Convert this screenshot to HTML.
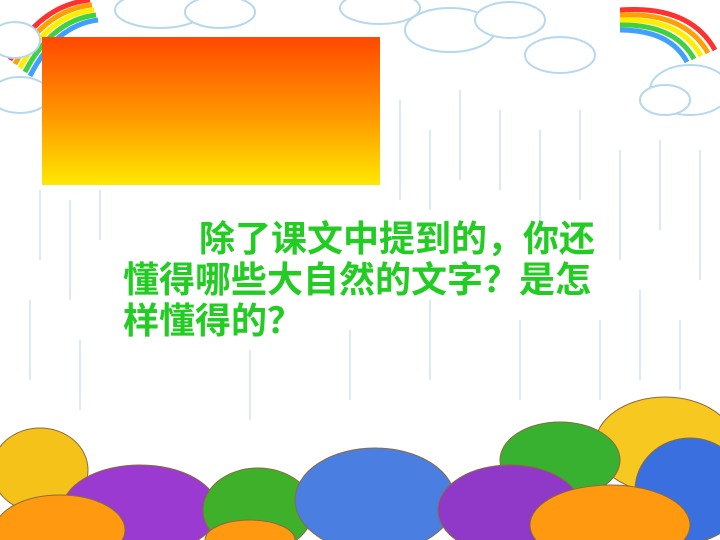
<!DOCTYPE html>
<html><head><meta charset="utf-8"><style>
html,body{margin:0;padding:0;}
body{width:720px;height:540px;overflow:hidden;background:#fff;position:relative;}
#bg{position:absolute;left:0;top:0;}
#box{position:absolute;left:42px;top:37px;width:338px;height:148px;background:linear-gradient(#ff4800,#ff9a00 55%,#ffe800);}
#txt{position:absolute;left:123px;top:218px;width:500px;font-family:"Liberation Sans","Noto Sans CJK SC",sans-serif;font-size:36px;line-height:41px;color:#22cc22;font-weight:bold;white-space:nowrap;}
</style></head><body>
<svg id="bg" width="720" height="540" viewBox="0 0 720 540">
<g stroke="#dbeaf6" stroke-width="2">
<line x1="40" y1="190" x2="40" y2="260"/><line x1="70" y1="200" x2="70" y2="300"/><line x1="100" y1="190" x2="100" y2="240"/><line x1="400" y1="100" x2="400" y2="200"/><line x1="430" y1="130" x2="430" y2="210"/><line x1="460" y1="90" x2="460" y2="180"/><line x1="500" y1="110" x2="500" y2="190"/><line x1="540" y1="130" x2="540" y2="230"/><line x1="580" y1="110" x2="580" y2="200"/><line x1="620" y1="150" x2="620" y2="260"/><line x1="660" y1="140" x2="660" y2="230"/><line x1="700" y1="150" x2="700" y2="280"/><line x1="640" y1="290" x2="640" y2="380"/><line x1="600" y1="320" x2="600" y2="400"/><line x1="30" y1="300" x2="30" y2="380"/><line x1="80" y1="340" x2="80" y2="410"/><line x1="350" y1="330" x2="350" y2="400"/><line x1="430" y1="300" x2="430" y2="380"/><line x1="520" y1="320" x2="520" y2="400"/><line x1="680" y1="320" x2="680" y2="390"/><line x1="250" y1="350" x2="250" y2="420"/></g>
<g fill="none" stroke-width="5">
<path d="M10 60 Q40 5 90 0" stroke="#ff3030"/><path d="M15 64 Q44 10 92 5" stroke="#ffa000"/><path d="M20 68 Q48 15 94 10" stroke="#ffee00"/><path d="M25 72 Q52 20 96 15" stroke="#40d040"/><path d="M30 76 Q56 25 98 20" stroke="#40a0ff"/></g>
<g fill="none" stroke-width="5">
<path d="M620 10 Q690 5 715 50" stroke="#ff3030"/><path d="M620 15 Q685 12 708 53" stroke="#ffa000"/><path d="M620 20 Q680 18 701 56" stroke="#ffee00"/><path d="M620 25 Q675 24 694 59" stroke="#40d040"/><path d="M620 30 Q670 30 687 62" stroke="#40a0ff"/></g>
<g fill="#fff" stroke="#b5d8f0" stroke-width="2">
<ellipse cx="15" cy="40" rx="25" ry="18"/><ellipse cx="20" cy="95" rx="30" ry="18"/>
<ellipse cx="160" cy="10" rx="45" ry="18"/><ellipse cx="220" cy="12" rx="35" ry="16"/>
<ellipse cx="380" cy="8" rx="40" ry="16"/><ellipse cx="450" cy="30" rx="45" ry="22"/><ellipse cx="510" cy="20" rx="35" ry="18"/><ellipse cx="560" cy="55" rx="35" ry="18"/>
<ellipse cx="690" cy="90" rx="40" ry="25"/><ellipse cx="665" cy="100" rx="25" ry="15"/></g>
<g stroke="#8a6a40" stroke-width="1">
<ellipse cx="40" cy="470" rx="48" ry="42" fill="#f5c21a"/>
<ellipse cx="665" cy="445" rx="70" ry="48" fill="#f7c920"/>
<ellipse cx="560" cy="460" rx="60" ry="38" fill="#38b030"/>
<ellipse cx="140" cy="510" rx="78" ry="45" fill="#9a3ad0"/>
<ellipse cx="258" cy="510" rx="55" ry="42" fill="#3fb02a"/>
<ellipse cx="375" cy="500" rx="80" ry="52" fill="#4a7ee0"/>
<ellipse cx="510" cy="510" rx="72" ry="45" fill="#9038c8"/>
<ellipse cx="690" cy="490" rx="55" ry="52" fill="#3a6fe0"/>
<ellipse cx="610" cy="525" rx="80" ry="40" fill="#ff9a10"/>
<ellipse cx="60" cy="530" rx="65" ry="35" fill="#ff9a10"/>
<ellipse cx="250" cy="540" rx="45" ry="20" fill="#ff9a10"/></g>
</svg>
<div id="box"></div>
<div id="txt"><span style="padding-left:76px">除了课文中提到的，你还</span><br>懂得哪些大自然的文字？是怎<br>样懂得的？</div>
</body></html>
